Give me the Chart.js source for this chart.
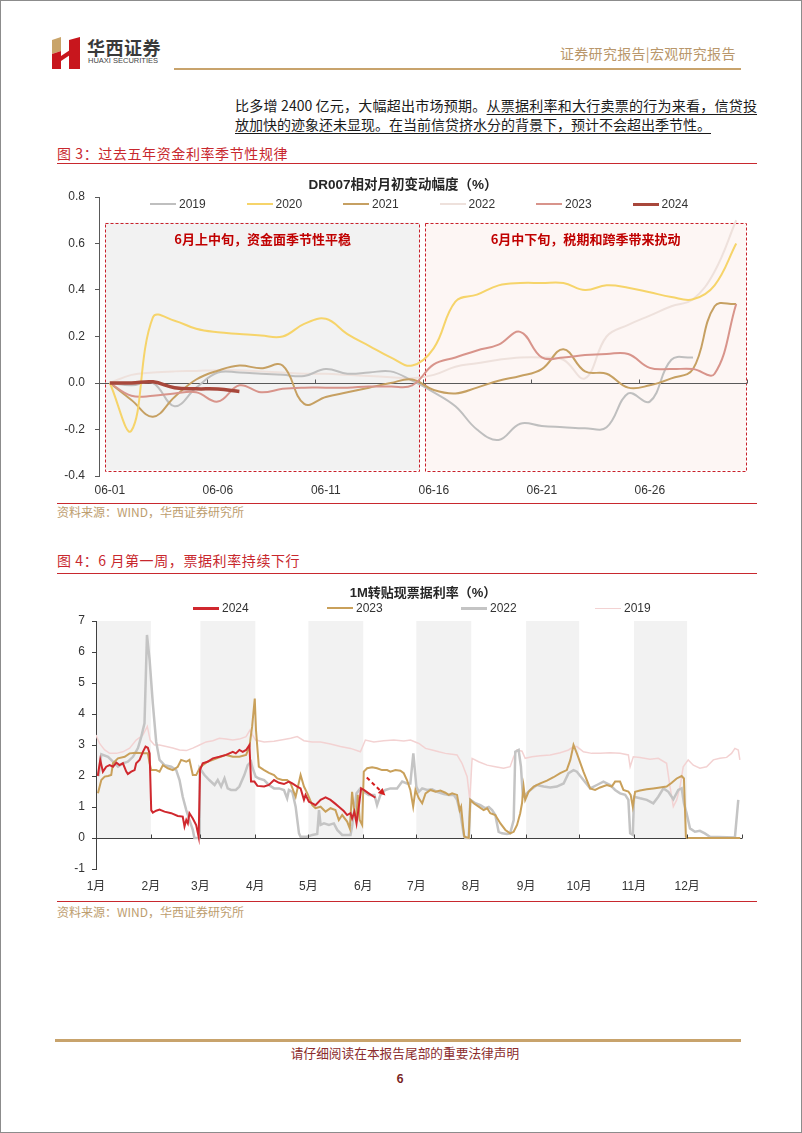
<!DOCTYPE html>
<html lang="zh-CN">
<head>
<meta charset="UTF-8">
<title>华西证券 宏观研究报告</title>
<script src="https://cdn.jsdelivr.net/npm/chart.js@4.4.1/dist/chart.umd.min.js"></script>
<style>
  body { margin: 0; background: #fff; font-family: "Noto Sans CJK SC", "Liberation Sans", sans-serif; }
  .page { position: relative; width: 802px; height: 1133px; overflow: hidden; background: #fff; }
  .frame { position: absolute; left: 0; top: 0; width: 802px; height: 1133px; border: 1px solid #8c8c8c; box-sizing: border-box; pointer-events: none; z-index: 5; }
  .abs { position: absolute; white-space: nowrap; }
  .rule { position: absolute; left: 57px; width: 700px; height: 1px; background: #c8282e; }
  .caption { left: 57px; font-size: 14px; line-height: 18px; color: #c8282e; letter-spacing: 0.6px; }
  .source { left: 57px; font-size: 12px; line-height: 16px; color: #bd9d6e; }
  .body-line { left: 235px; font-size: 14px; line-height: 18px; color: #1a1a1a; }
  .body-line u { text-decoration: underline; text-underline-offset: 3px; text-decoration-thickness: 1px; }
  .chart-title { font-family: "Liberation Sans", "Noto Sans CJK SC", sans-serif; font-weight: bold; color: #262626; text-align: center; line-height: 18px; z-index: 2; }
  .legend { font-family: "Liberation Sans", sans-serif; font-size: 12px; line-height: 16px; color: #333; z-index: 2; display: flex; }
  .legend span { display: inline-flex; align-items: center; }
  .legend i { display: inline-block; width: 26px; margin-right: 3px; }
  canvas { position: absolute; }
</style>
</head>
<body>
<div class="page">
  <!-- header -->
  <svg class="abs" style="left:52px; top:37px" width="28" height="32" viewBox="0 0 28 32">
    <polygon points="0,3 9,0 9,14 0,17" fill="#c9a46a"/>
    <polygon points="0,17 9,14 9,32 0,32" fill="#c8161d"/>
    <polygon points="9,19 18,13 18,18 9,24" fill="#c8161d"/>
    <polygon points="17,3 28,0 28,32 17,32" fill="#c8161d"/>
  </svg>
  <div class="abs" style="left:87px; top:36px; font-size:18px; line-height:22px; font-weight:bold; color:#3a3a3a; letter-spacing:0.5px">华西证券</div>
  <div class="abs" style="left:88px; top:56px; font-family:'Liberation Sans',sans-serif; font-size:7.5px; line-height:10px; color:#444">HUAXI SECURITIES</div>
  <div class="abs" style="left:560px; top:44px; font-size:14px; line-height:18px; color:#b9976b; letter-spacing:0.3px">证券研究报告|宏观研究报告</div>
  <div class="abs" style="left:174px; top:68px; width:567px; height:2px; background:#c8a36c"></div>

  <!-- paragraph -->
  <div class="abs body-line" style="top:96px; width:522px; text-align:justify; text-align-last:justify">比多增 2400 亿元，大幅超出市场预期。<u>从票据利率和大行卖票的行为来看，信贷投</u></div>
  <div class="abs body-line" style="top:115px"><u>放加快的迹象还未显现。在当前信贷挤水分的背景下，预计不会超出季节性。</u></div>

  <!-- figure 3 -->
  <div class="abs caption" style="top:144px">图 3：过去五年资金利率季节性规律</div>
  <div class="rule" style="top:163px"></div>
  <canvas id="dr007" width="720" height="330" style="left:40px; top:170px"></canvas>
  <div class="abs chart-title" style="left:253px; top:176px; width:300px; font-size:13.5px">DR007相对月初变动幅度（%）</div>
  <div class="abs legend" id="legend1" style="left:150px; top:196px"></div>
  <div class="rule" style="top:503px"></div>
  <div class="abs source" style="top:504px">资料来源：WIND，华西证券研究所</div>

  <!-- figure 4 -->
  <div class="abs caption" style="top:551px">图 4：6 月第一周，票据利率持续下行</div>
  <div class="rule" style="top:573px"></div>
  <canvas id="bill" width="720" height="325" style="left:40px; top:575px"></canvas>
  <div class="abs chart-title" style="left:273px; top:584px; width:300px; font-size:13px">1M转贴现票据利率（%）</div>
  <div class="abs legend" id="legend2" style="left:193px; top:600px"></div>
  <div class="rule" style="top:901px"></div>
  <div class="abs source" style="top:904px">资料来源：WIND，华西证券研究所</div>

  <!-- footer -->
  <div class="abs" style="left:55px; top:1039px; width:686px; height:3px; background:#c8a36c"></div>
  <div class="abs" style="left:205px; top:1044px; width:400px; text-align:center; font-size:12.7px; line-height:18px; color:#8b2c2c">请仔细阅读在本报告尾部的重要法律声明</div>
  <div class="abs" style="left:380px; top:1070px; width:40px; text-align:center; font-size:12px; line-height:16px; font-weight:bold; color:#7a1f1f">6</div>
  <div class="frame"></div>
</div>

<script>
    // ---- figure 3: DR007 change vs. start of June (%) ----
    const days = Array.from({ length: 30 }, (_, i) => '06-' + String(i + 1).padStart(2, '0'));
    const dr2019 = [0, -0.01, 0.0, -0.10, -0.02, 0.045, 0.045, 0.04, 0.035, 0.03, 0.06, 0.04, 0.045, 0.05, 0.01,
                    -0.04, -0.10, -0.20, -0.245, -0.175, -0.185, -0.19, -0.195, -0.19, -0.045, -0.08, 0.10, 0.11, null, null];
    const dr2020 = [0, -0.205, 0.283, 0.268, 0.233, 0.218, 0.211, 0.204, 0.2, 0.254, 0.276, 0.21, 0.16, 0.11, 0.075,
                    0.15, 0.35, 0.38, 0.42, 0.43, 0.43, 0.43, 0.40, 0.42, 0.41, 0.39, 0.37, 0.36, 0.42, 0.60];
    const dr2021 = [0, -0.073, -0.145, -0.06, 0.015, 0.053, 0.075, 0.063, 0.075, -0.09, -0.06, -0.04, -0.02, 0.0, 0.015,
                    -0.03, -0.045, -0.02, 0.01, 0.03, 0.06, 0.145, 0.05, 0.04, -0.02, -0.01, 0.02, 0.06, 0.33, 0.34];
    const dr2022 = [0, 0.035, 0.045, 0.05, 0.052, 0.055, 0.055, 0.05, 0.045, 0.04, 0.04, 0.035, 0.03, 0.025, 0.02,
                    0.035, 0.07, 0.085, 0.10, 0.11, 0.11, 0.10, 0.02, 0.20, 0.25, 0.29, 0.33, 0.36, 0.48, 0.70];
    const dr2023 = [0, -0.055, -0.055, -0.045, -0.04, -0.08, -0.01, -0.04, -0.025, -0.02, -0.02, -0.02, -0.015, -0.015, -0.01,
                    0.08, 0.11, 0.14, 0.165, 0.22, 0.11, 0.11, 0.12, 0.125, 0.125, 0.065, 0.06, 0.06, 0.04, 0.34];
    const dr2024 = [0, 0.0, 0.005, -0.02, -0.025, -0.026, -0.037, ...Array(23).fill(null)];

    const drSeries = [
        { label: '2019', data: dr2019, color: '#bfbfbf', width: 2, order: 4 },
        { label: '2020', data: dr2020, color: '#f6d46a', width: 2, order: 1 },
        { label: '2021', data: dr2021, color: '#c6a062', width: 2, order: 3 },
        { label: '2022', data: dr2022, color: '#eee1dc', width: 2, order: 5 },
        { label: '2023', data: dr2023, color: '#d8948b', width: 2, order: 2 },
        { label: '2024', data: dr2024, color: '#a8473b', width: 3.5, order: 0 }
    ];

    // the two dashed boxes, in category / value units
    const zones = [
        { from: -0.2, to: 14.35, top: 0.69, bottom: -0.375, fill: '#f2f2f2', text: '6月上中旬，资金面季节性平稳' },
        { from: 14.6, to: 29.45, top: 0.69, bottom: -0.375, fill: '#fdf6f4', text: '6月中下旬，税期和跨季带来扰动' }
    ];
    const zoneTextY = 0.62;

    // ---- figure 4: 1M bill rediscount rate (%), x = day of year ----
    const monthStarts = [0, 31, 59, 90, 120, 151, 181, 212, 243, 273, 304, 334, 365];
    const monthLabels = ['1月', '2月', '3月', '4月', '5月', '6月', '7月', '8月', '9月', '10月', '11月', '12月'];
    const shadedMonths = [0, 2, 4, 6, 8, 10];

    const bill2024 = [[1, 2.0], [2.4, 2.52], [3.9, 2.14], [5.8, 2.3], [7.7, 2.35], [9.6, 2.3], [11.5, 2.43], [13.3, 2.35],
        [15.2, 2.41], [17.1, 2.14], [18, 2.06], [19.9, 2.14], [21.8, 2.19], [22.7, 2.41], [24.6, 2.52], [26.5, 2.78],
        [28, 2.95], [29.3, 2.91], [30.3, 2.73], [31.2, 0.9], [32.1, 0.82], [34, 0.88], [35.9, 0.92], [38.7, 0.85],
        [42.5, 0.8], [46.2, 0.71], [49, 0.69], [50, 0.37], [51, 0.58], [51.9, 0.47], [52.8, 0.8], [54.7, 0.63],
        [56.6, 0.42], [58, 0.04], [58.8, 2.2], [60.3, 2.41], [63, 2.46], [66, 2.57], [69.7, 2.62], [73.5, 2.68],
        [77.3, 2.78], [79, 2.73], [81, 2.84], [82.9, 2.78], [84.8, 2.84], [86.7, 3.0], [87.6, 1.82], [89.5, 1.82],
        [91.2, 1.68], [95, 1.66], [97.7, 1.71], [100.6, 1.87], [103.4, 1.78], [106.2, 1.74], [109, 1.82], [110.9, 1.76],
        [113.7, 1.66], [115.6, 1.6], [117.5, 1.23], [118.4, 1.39], [120.3, 1.17], [122.2, 1.12], [124, 1.06],
        [126.9, 1.23], [129.7, 1.31], [132.5, 1.23], [135.3, 1.1], [137.2, 1.01], [140, 0.87], [141.9, 0.74],
        [143.8, 0.8], [144.7, 0.63], [146, 0.85], [147.2, 0.47], [148.5, 1.01], [149.8, 1.6], [151.3, 1.55],
        [154.1, 1.44], [157, 1.33], [157.9, 1.3]];

    const bill2023 = [[1.1, 1.44], [3, 1.87], [4.9, 1.98], [6.8, 2.0], [8.6, 2.03], [9.6, 2.41], [12.4, 2.57], [16.2, 2.62],
        [19, 2.73], [22.7, 2.75], [26.5, 2.73], [29.3, 2.73], [30.3, 2.41], [31.2, 2.19], [34, 2.19], [35.9, 2.14],
        [37.8, 2.35], [40.6, 2.25], [43.4, 2.19], [46.2, 2.3], [48.1, 2.52], [51, 2.46], [52.8, 2.52], [54.7, 2.03],
        [56.6, 2.03], [58.5, 2.25], [60.3, 2.35], [63, 2.46], [66, 2.52], [69.7, 2.6], [73.5, 2.68], [77.3, 2.62],
        [81, 2.62], [84.8, 2.68], [86.7, 2.95], [88.2, 3.59], [89.7, 4.5], [90.4, 3.48], [92, 2.3], [95, 2.19],
        [97.7, 2.1], [100.6, 2.03], [102.4, 1.92], [105.3, 1.87], [108, 1.87], [110, 1.76], [112.8, 1.33],
        [115.6, 2.03], [117.5, 1.66], [119.4, 1.44], [122.2, 1.06], [124, 0.96], [126.9, 1.01], [129.7, 0.85],
        [132.5, 0.96], [135.3, 0.9], [137.2, 0.58], [139.1, 0.74], [141.9, 0.53], [143.4, 0.31], [144.7, 1.49],
        [146, 0.8], [147.2, 0.69], [147.9, 1.39], [149, 0.58], [150.4, 0.42], [151.3, 2.14], [153.2, 2.25],
        [156, 2.28], [158.8, 2.25], [161.6, 2.19], [164.5, 2.19], [166.3, 2.14], [169.2, 2.19], [172, 2.17],
        [173.9, 2.09], [175.7, 1.87], [177.6, 1.55], [179.2, 1.01], [180.5, 1.55], [182.4, 1.28], [184.3, 1.12],
        [186.2, 1.44], [189, 1.55], [191.8, 1.49], [194.6, 1.53], [197.4, 1.46], [199.3, 1.39], [201.2, 1.44],
        [204, 1.39], [205.5, 0.9], [206.3, 1.01], [207.4, 0.37], [208.1, 0.04], [210.6, 0], [211.5, 1.23],
        [213.4, 1.12], [216.2, 1.01], [219, 0.9], [221, 0.96], [222.8, 0.8], [225.6, 0.74], [228.5, 0.47],
        [231.3, 0.26], [234, 0.15], [236, 0.2], [237.9, 0.42], [239.7, 0.8], [240.7, 1.12], [241.6, 1.66],
        [242.5, 1.23], [244.4, 1.49], [247.3, 1.66], [251, 1.76], [254.8, 1.85], [258.5, 1.96], [262.3, 2.09],
        [266, 2.19], [268, 2.52], [269.8, 3.0], [271.7, 2.73], [275.4, 2.14], [279.2, 1.6], [282, 1.55],
        [284.8, 1.63], [288.6, 1.71], [291.4, 1.66], [293.3, 1.82], [296.1, 1.82], [298, 1.55], [300.8, 1.5],
        [302.1, 1.39], [303.3, 1.01], [304.6, 1.49], [307.4, 1.53], [311.2, 1.57], [314.9, 1.6], [318.7, 1.63],
        [322.4, 1.66], [325.3, 1.78], [328.1, 1.92], [330.9, 2.0], [332.2, 1.92], [333.3, 0.04], [334, 0], [364, 0]];

    const bill2022 = [[1.5, 2.0], [3, 2.7], [6.8, 2.62], [9.6, 2.46], [12.4, 2.3], [15.2, 2.41], [18, 2.46], [20.9, 2.62],
        [23.7, 2.9], [25.6, 3.27], [27.4, 3.7], [28.8, 6.55], [30.3, 5.74], [32.1, 4.34], [34, 3.1], [35.9, 2.52],
        [38.7, 2.35], [42.5, 2.3], [45.3, 2.19], [47.2, 1.87], [49, 1.33], [51, 0.9], [52.8, 0.58], [54.7, 0.26],
        [55.6, 0], [58.3, 0], [58.6, 2.25], [61.3, 2.03], [64, 1.87], [67, 1.71], [68.8, 1.87], [70.7, 1.66],
        [72.6, 1.92], [74.4, 1.6], [76.3, 1.55], [79, 1.55], [81, 1.66], [83.8, 2.03], [85.7, 2.35], [87.6, 2.46],
        [88.5, 2.25], [90.2, 1.98], [92.1, 1.92], [95, 1.87], [97.7, 1.71], [100.6, 1.6], [103.4, 1.6], [106.2, 1.55],
        [108, 1.28], [109, 1.55], [110.9, 1.49], [112.8, 1.01], [114.7, 0.15], [115.6, 0.04], [119.4, 0.04],
        [122.2, 0.1], [125, 0.13], [126, 0.9], [126.9, 0.42], [128.8, 0.47], [131.6, 0.42], [134.4, 0.47],
        [136.3, 0.26], [139.1, 0.1], [143.8, 0.1], [144.7, 0.37], [145.7, 0.8], [147.2, 1.44], [149.4, 1.6],
        [151.3, 1.49], [154.1, 1.39], [157.3, 1.39], [158.8, 1.06], [160.7, 1.39], [163.5, 1.55], [166.3, 1.6],
        [170.1, 1.6], [173, 1.82], [175.7, 1.76], [177.6, 1.76], [179.3, 2.73], [181, 1.66], [182.4, 1.49],
        [184.3, 1.6], [187.1, 1.55], [189.9, 1.57], [192.7, 1.49], [196.5, 1.42], [199.3, 1.39], [202.1, 1.39],
        [204, 1.23], [205.9, 0.8], [207.8, 0.1], [208.7, 0], [210.6, 0], [211.5, 1.23], [214.4, 1.12], [217.2, 1.06],
        [220, 0.96], [221.9, 1.0], [223.8, 0.9], [225.6, 0.74], [227.5, 0.2], [229.4, 0.15], [232.2, 0.13],
        [234, 0.15], [236, 0.58], [236.9, 2.78], [238.8, 2.84], [240.1, 2.3], [241.2, 1.33], [242.5, 1.39],
        [245.4, 1.55], [249.1, 1.71], [252.9, 1.66], [256.6, 1.63], [260.4, 1.66], [264.2, 1.76], [267, 2.09],
        [269.8, 2.19], [271.7, 2.14], [275.4, 1.87], [279.2, 1.6], [283, 1.71], [286.7, 1.82], [290.5, 1.71],
        [293.3, 1.55], [296.1, 1.44], [299, 1.39], [300.8, 1.23], [301.8, 0.15], [303.3, 0.1], [304, 1.33],
        [307.4, 1.28], [311.2, 1.23], [314.9, 1.12], [317.7, 1.33], [320.6, 1.6], [323.4, 1.49], [326.2, 1.25],
        [329, 1.55], [330.9, 1.6], [332.2, 1.12], [333.7, 0.8], [335.6, 0.31], [338.4, 0.2], [341.2, 0.23],
        [344, 0.15], [346.9, 0.04], [361, 0.02], [362.9, 1.23]];

    const bill2019 = [[0, 3.32], [2, 3.05], [4.9, 2.84], [7.7, 2.73], [11.5, 2.73], [15.2, 2.78], [19, 2.9], [22.7, 3.16],
        [26.5, 3.32], [29, 3.6], [30.6, 3.16], [33, 3.0], [35.9, 3.0], [39.7, 2.95], [43.4, 2.9], [47.2, 2.84],
        [51, 2.82], [54.7, 2.9], [58.5, 3.0], [62.2, 3.1], [66, 3.14], [69.7, 3.22], [73.5, 3.19], [77.3, 3.16],
        [81, 3.19], [84.8, 3.27], [87, 3.48], [88.5, 3.32], [90.2, 3.16], [95, 3.1], [100.6, 3.12], [106.2, 3.18],
        [110, 3.22], [113.7, 3.27], [117.5, 3.14], [122.2, 3.1], [126.9, 3.1], [132.5, 3.03], [138.1, 2.95],
        [143.8, 2.89], [149.4, 2.78], [152.2, 3.16], [157, 3.1], [162.6, 3.14], [168.2, 3.16], [173.9, 3.13],
        [177.7, 3.16], [182.4, 3.05], [186.2, 2.89], [189.9, 2.84], [193.7, 2.78], [197.4, 2.73], [201.2, 2.7],
        [204, 2.68], [206.8, 2.41], [209.7, 1.98], [211.2, 1.23], [212.5, 2.57], [216.2, 2.46], [221, 2.35],
        [225.6, 2.3], [230.3, 2.25], [234, 2.3], [236, 2.62], [237.9, 2.84], [240.7, 2.8], [242.5, 2.57],
        [246.3, 2.62], [251, 2.65], [256.6, 2.68], [262.3, 2.75], [267, 2.84], [269.8, 2.95], [271.7, 2.95],
        [275.4, 2.78], [280.1, 2.73], [284.8, 2.73], [290.5, 2.75], [296.1, 2.73], [300.8, 2.68], [301.8, 2.3],
        [303.6, 2.62], [307.4, 2.6], [313, 2.54], [317.7, 2.57], [322.4, 2.41], [324.3, 1.66], [326.2, 1.01],
        [328.1, 1.23], [330, 1.66], [331.8, 2.3], [334.6, 2.52], [337.5, 2.35], [341.2, 2.25], [345, 2.3],
        [348.8, 2.52], [352.5, 2.57], [356.3, 2.6], [359.1, 2.73], [361, 2.89], [362.9, 2.84], [363.8, 2.52]];

    const billSeries = [
        { label: '2024', data: bill2024, color: '#d0282e', width: 2, legendWidth: 3 },
        { label: '2023', data: bill2023, color: '#c9a05a', width: 2, legendWidth: 2.5 },
        { label: '2022', data: bill2022, color: '#c4c4c4', width: 2.5, legendWidth: 3 },
        { label: '2019', data: bill2019, color: '#f3d2d2', width: 1.5, legendWidth: 1.5 }
    ];

    // red dashed arrow on the early-June 2024 drop (day of year, rate)
    const arrow = { from: [153, 1.95], to: [163.5, 1.37] };

    Chart.defaults.font.family = "'Liberation Sans', 'Noto Sans CJK SC', sans-serif";
    Chart.defaults.font.size = 12;
    Chart.defaults.color = '#333';

    function buildLegend(el, series, itemWidth) {
        series.forEach(s => {
            const item = document.createElement('span');
            item.style.width = itemWidth + 'px';
            item.innerHTML = '<i style="border-top:' + (s.legendWidth || s.width) + 'px solid ' + s.color + '"></i>' + s.label;
            el.appendChild(item);
        });
    }
    buildLegend(document.getElementById('legend1'), drSeries, 96.5);
    buildLegend(document.getElementById('legend2'), billSeries, 134);

    function zeroTicks(chart, positions, color) {
        const { ctx, scales: { x, y } } = chart;
        const y0 = Math.round(y.getPixelForValue(0)) + 0.5;
        ctx.save();
        ctx.strokeStyle = color;
        ctx.lineWidth = 1;
        positions.forEach(p => {
            const px = Math.round(x.getPixelForValue(p)) + 0.5;
            ctx.beginPath();
            ctx.moveTo(px, y0);
            ctx.lineTo(px, y0 - 4);
            ctx.stroke();
        });
        ctx.restore();
    }

    const zonePlugin = {
        id: 'zones',
        beforeDraw(chart) {
            const { ctx, scales: { x, y } } = chart;
            ctx.save();
            zones.forEach(z => {
                const x0 = x.getPixelForValue(z.from), x1 = x.getPixelForValue(z.to);
                const y0 = y.getPixelForValue(z.top), y1 = y.getPixelForValue(z.bottom);
                ctx.fillStyle = z.fill;
                ctx.fillRect(x0, y0, x1 - x0, y1 - y0);
                ctx.setLineDash([3, 2]);
                ctx.strokeStyle = '#c8202a';
                ctx.lineWidth = 1;
                ctx.strokeRect(Math.round(x0) + 0.5, Math.round(y0) + 0.5, Math.round(x1 - x0), Math.round(y1 - y0));
            });
            ctx.restore();
        },
        afterDatasetsDraw(chart) {
            const { ctx, scales: { x, y } } = chart;
            const bounds = days.map((_, i) => i).filter(i => i > 0 && i % 5 === 0).map(i => i - 0.5).concat([days.length - 0.5]);
            zeroTicks(chart, bounds, '#595959');
            ctx.save();
            ctx.font = "bold 13px 'Noto Sans CJK SC', sans-serif";
            ctx.fillStyle = '#c00000';
            ctx.textAlign = 'center';
            ctx.textBaseline = 'middle';
            zones.forEach(z => {
                ctx.fillText(z.text, x.getPixelForValue((z.from + z.to) / 2), y.getPixelForValue(zoneTextY));
            });
            ctx.restore();
        }
    };

    const bandPlugin = {
        id: 'bands',
        beforeDraw(chart) {
            const { ctx, scales: { x, y } } = chart;
            ctx.save();
            ctx.fillStyle = '#f2f2f2';
            const yTop = y.getPixelForValue(7), yBot = y.getPixelForValue(0);
            shadedMonths.forEach(m => {
                const x0 = x.getPixelForValue(monthStarts[m]), x1 = x.getPixelForValue(monthStarts[m + 1]);
                ctx.fillRect(x0, yTop, x1 - x0, yBot - yTop);
            });
            ctx.restore();
        },
        afterDatasetsDraw(chart) {
            const { ctx, scales: { x, y } } = chart;
            zeroTicks(chart, monthStarts.slice(1), '#404040');
            const x0 = x.getPixelForValue(arrow.from[0]), y0 = y.getPixelForValue(arrow.from[1]);
            const x1 = x.getPixelForValue(arrow.to[0]), y1 = y.getPixelForValue(arrow.to[1]);
            const ang = Math.atan2(y1 - y0, x1 - x0);
            const head = 8;
            ctx.save();
            ctx.strokeStyle = '#d41e1e';
            ctx.fillStyle = '#d41e1e';
            ctx.lineWidth = 2;
            ctx.setLineDash([4, 3]);
            ctx.beginPath();
            ctx.moveTo(x0, y0);
            ctx.lineTo(x1 - head * Math.cos(ang), y1 - head * Math.sin(ang));
            ctx.stroke();
            ctx.setLineDash([]);
            ctx.beginPath();
            ctx.moveTo(x1, y1);
            ctx.lineTo(x1 - head * Math.cos(ang - 0.45), y1 - head * Math.sin(ang - 0.45));
            ctx.lineTo(x1 - head * Math.cos(ang + 0.45), y1 - head * Math.sin(ang + 0.45));
            ctx.closePath();
            ctx.fill();
            ctx.restore();
        }
    };

    new Chart(document.getElementById('dr007'), {
        type: 'line',
        data: {
            labels: days,
            datasets: drSeries.map(s => ({
                label: s.label,
                data: s.data,
                borderColor: s.color,
                borderWidth: s.width,
                pointRadius: 0,
                tension: 0.4,
                fill: false,
                order: s.order
            }))
        },
        options: {
            responsive: false,
            animation: false,
            layout: { padding: { left: 0, right: 13, top: 27, bottom: 0 } },
            plugins: { legend: { display: false }, tooltip: { enabled: false } },
            scales: {
                x: {
                    offset: true,
                    grid: { display: false, drawTicks: false },
                    border: { display: false },
                    ticks: { autoSkip: false, maxRotation: 0, padding: 7, callback: (v, i) => (i % 5 === 0 ? days[i] : '') },
                    afterFit: s => { s.height = 24; }
                },
                y: {
                    min: -0.4,
                    max: 0.8,
                    border: { display: true, color: '#595959' },
                    grid: {
                        color: c => (c.tick && Math.abs(c.tick.value) < 1e-9 ? '#595959' : 'rgba(0,0,0,0)'),
                        tickColor: '#595959',
                        tickLength: 4
                    },
                    ticks: { stepSize: 0.2, padding: 10, callback: v => v.toFixed(1) },
                    afterFit: s => { s.width = 59; }
                }
            }
        },
        plugins: [zonePlugin]
    });

    new Chart(document.getElementById('bill'), {
        type: 'line',
        data: {
            datasets: billSeries.map(s => ({
                label: s.label,
                data: s.data.map(([x, y]) => ({ x, y })),
                borderColor: s.color,
                borderWidth: s.width,
                pointRadius: 0,
                tension: 0,
                fill: false
            }))
        },
        options: {
            responsive: false,
            animation: false,
            layout: { padding: { left: 0, right: 18, top: 46, bottom: 0 } },
            plugins: { legend: { display: false }, tooltip: { enabled: false } },
            scales: {
                x: {
                    type: 'linear',
                    min: 0,
                    max: 365,
                    grid: { display: false, drawTicks: false },
                    border: { display: false },
                    afterBuildTicks: s => { s.ticks = monthStarts.slice(0, 12).map(v => ({ value: v })); },
                    ticks: { autoSkip: false, maxRotation: 0, padding: 10, callback: (v, i) => monthLabels[i] },
                    afterFit: s => { s.height = 31; }
                },
                y: {
                    min: -1,
                    max: 7,
                    border: { display: true, color: '#404040' },
                    grid: {
                        color: c => (c.tick && c.tick.value === 0 ? '#404040' : 'rgba(0,0,0,0)'),
                        tickColor: '#404040',
                        tickLength: 4
                    },
                    ticks: { stepSize: 1, padding: 7 },
                    afterFit: s => { s.width = 56; }
                }
            }
        },
        plugins: [bandPlugin]
    });
</script>
</body>
</html>
